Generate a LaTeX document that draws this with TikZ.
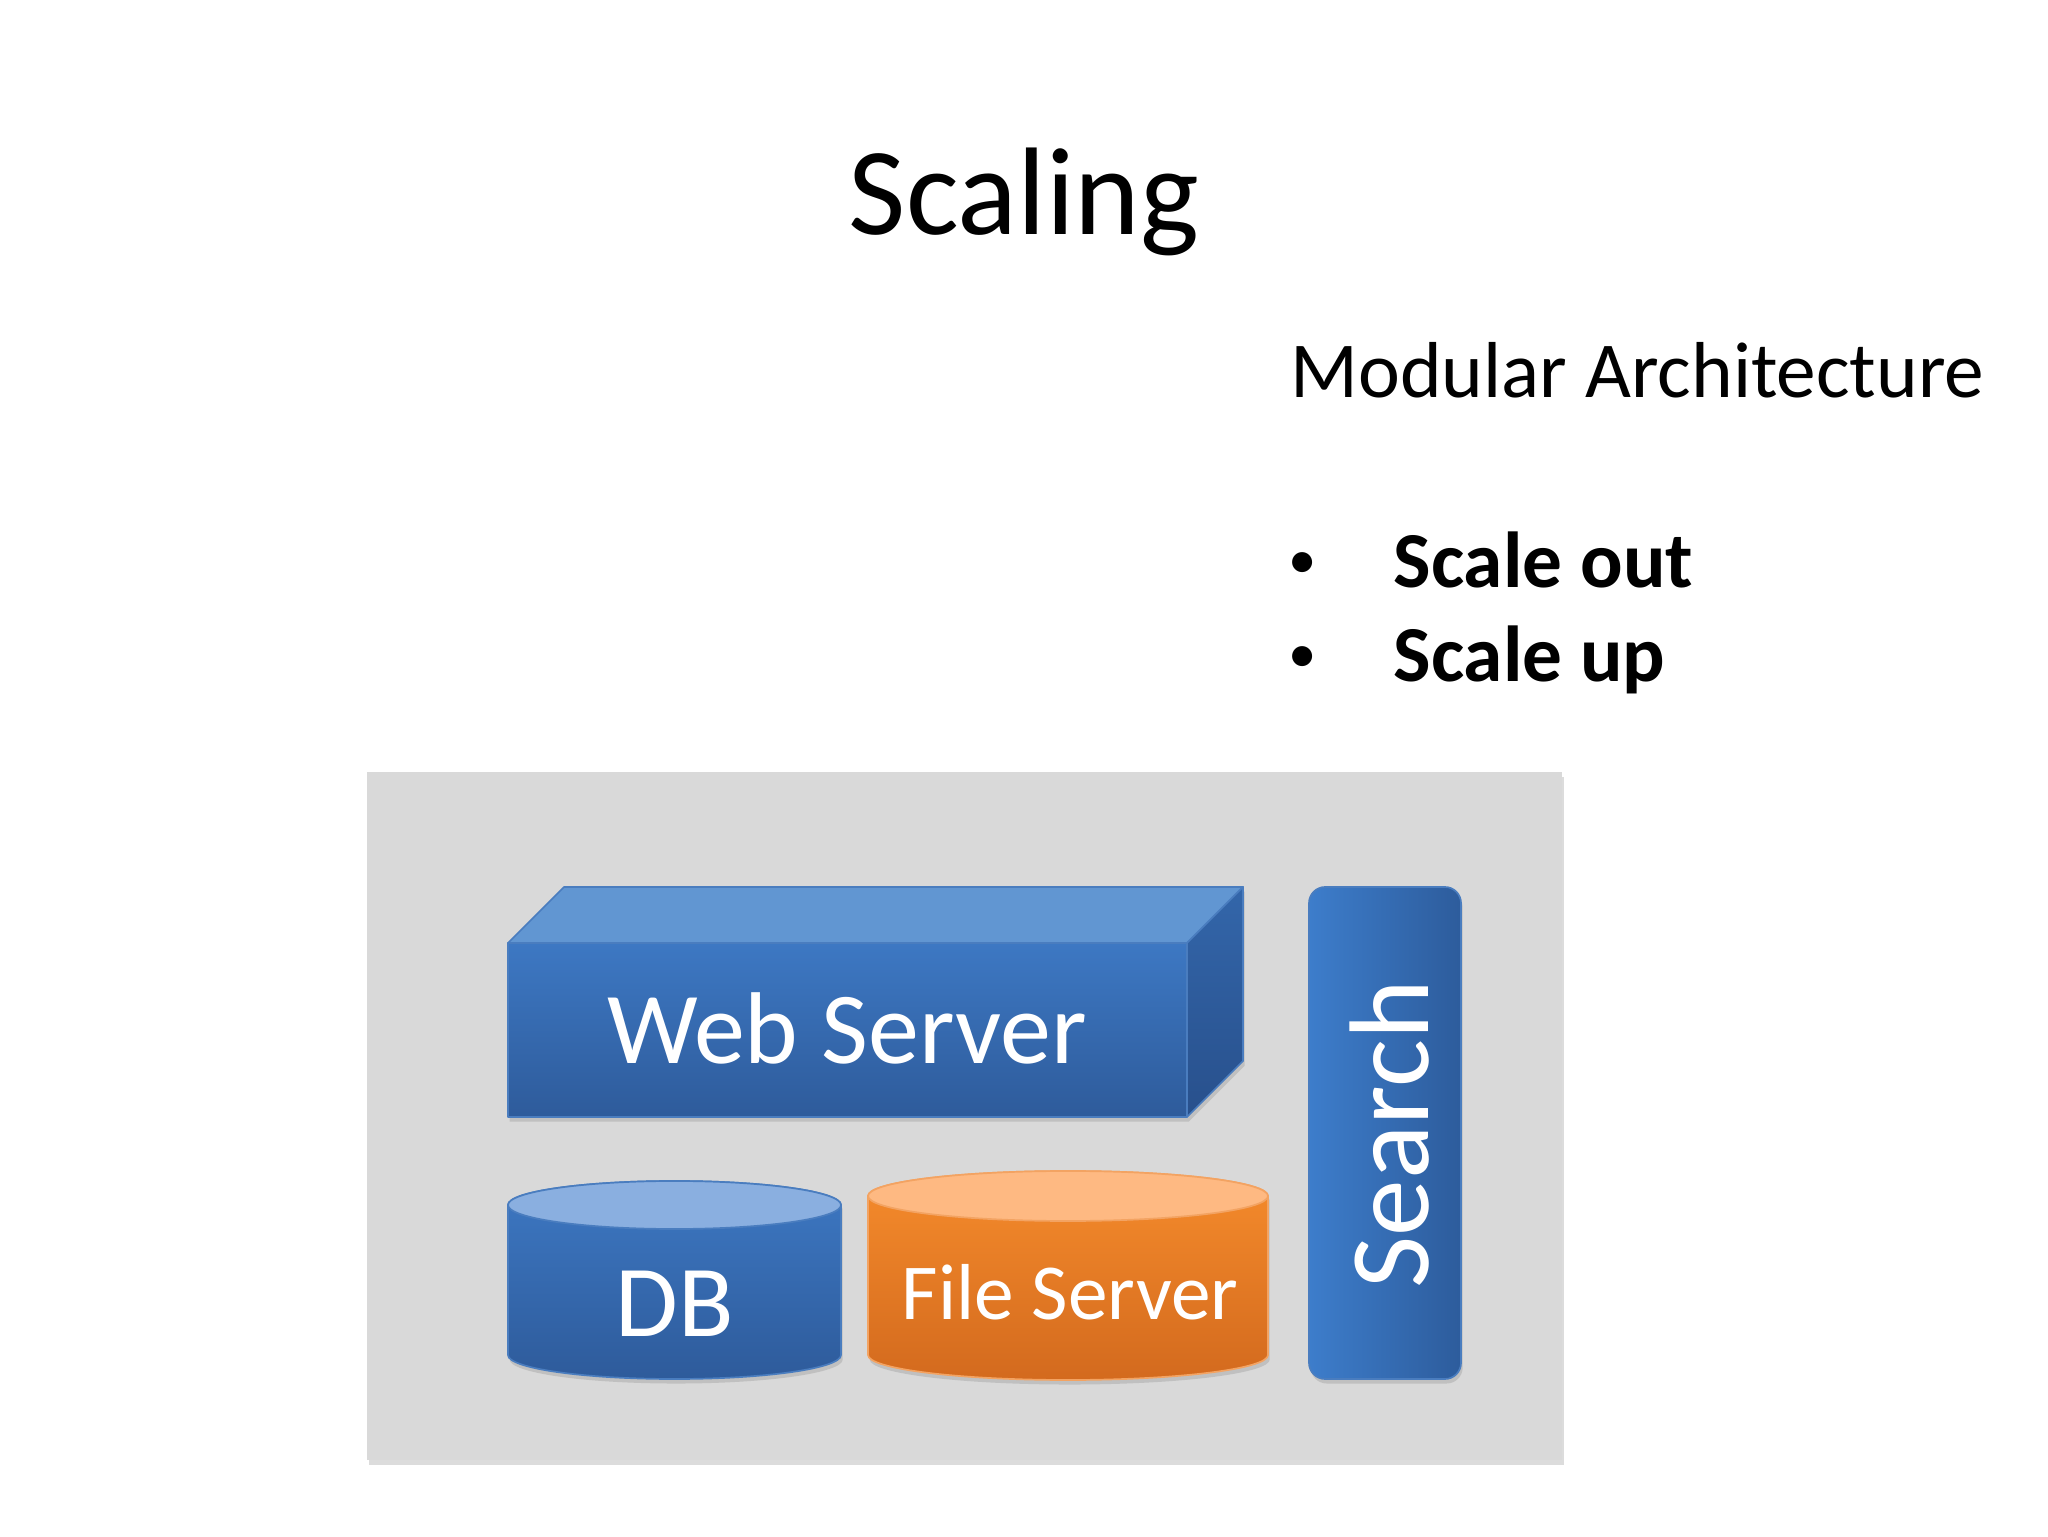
\documentclass[tikz,border=0pt]{standalone}
\usepackage{fontspec}
\setmainfont{Carlito}
\usetikzlibrary{shadows,positioning}
\definecolor{panelgray}{HTML}{D9D9D9}
\definecolor{edgeblue}{HTML}{4A7DBF}
\definecolor{wsTop}{HTML}{3D78C3}
\definecolor{wsBot}{HTML}{2E5B9B}
\definecolor{wsLight}{HTML}{6196D2}
\definecolor{wsSideTop}{HTML}{3366AA}
\definecolor{wsSideBot}{HTML}{28508C}
\definecolor{dbEnd}{HTML}{8AAFE0}
\definecolor{fsTop}{HTML}{F68C2C}
\definecolor{fsBot}{HTML}{D36A1E}
\definecolor{fsEnd}{HTML}{FEB982}
\definecolor{fsEdge}{HTML}{F3A362}
\definecolor{srLeft}{HTML}{3D7DCB}
\definecolor{srRight}{HTML}{2D5C9C}
\tikzset{
  face/.style={
    draw = edgeblue,
    line width = 0.6pt,
    line join = round
  },
  softshadow/.style={
    drop shadow={opacity=0.28, shadow xshift=0.6pt, shadow yshift=-1.6pt}
  },
  boxtext/.style={
    text = white,
    anchor = base,
    inner sep = 0pt,
    font = \fontsize{36}{43}\selectfont
  },
  slidetext/.style={
    anchor = base west,
    inner sep = 0pt,
    font = \fontsize{28}{34}\selectfont
  },
  bulletmark/.style={
    anchor = base,
    inner sep = 0pt,
    font = \fontsize{20}{24}\selectfont
  }
}
\begin{document}
\begin{tikzpicture}[x=0.0124023cm, y=0.0124023cm]
    \useasboundingbox (0,0) rectangle (2048,1536);
    \def\dd{56}
    \def\ry{24}
    % texts at the top
    \node[anchor=base, inner sep=0pt, font=\fontsize{44}{53}\selectfont] (title) at (1024,1301) {Scaling};
    \node[slidetext] (modular) at (1290,1138) {Modular Architecture};
    \node[slidetext, font=\fontsize{28}{34}\selectfont\bfseries] (scaleOut) at (1393,948) {Scale out};
    \node[slidetext, font=\fontsize{28}{34}\selectfont\bfseries] (scaleUp) at (1393,854) {Scale up};
    \node[bulletmark] (bulletOut) at (1303,957) {\textbullet};
    \node[bulletmark] (bulletUp) at (1303,863) {\textbullet};
    % gray panel
    \fill[panelgray, softshadow] (367,76) rectangle (1562,764);
    % web server box
    \path[softshadow, fill=wsBot] (508,419) -- (508,593) -- ++(\dd,\dd) -- (1243,649) -- (1243,475) -- (1187,419) -- cycle;
    \shadedraw[face, top color=wsTop, bottom color=wsBot] (508,419) rectangle (1187,593);
    \filldraw[face, fill=wsLight] (508,593) -- ++(\dd,\dd) -- (1243,649) -- (1187,593) -- cycle;
    \shadedraw[face, top color=wsSideTop, bottom color=wsSideBot] (1187,593) -- (1243,649) -- (1243,475) -- (1187,419) -- cycle;
    \node[boxtext] (web) at (847,472) {Web Server};
    % db cylinder
    \shadedraw[face, softshadow, top color=wsTop, bottom color=wsBot] (508,331) -- (508,181)
        arc[start angle=180, end angle=360, x radius=166.5, y radius=\ry] -- (841,331)
        arc[start angle=0, end angle=180, x radius=166.5, y radius=\ry] -- cycle;
    \filldraw[face, fill=dbEnd] (674.5,331) ellipse[x radius=166.5, y radius=\ry];
    \node[boxtext] (db) at (675,200) {DB};
    % file server cylinder
    \shadedraw[face, draw=fsEdge, softshadow, top color=fsTop, bottom color=fsBot] (868,340) -- (868,181)
        arc[start angle=180, end angle=360, x radius=200, y radius=25] -- (1268,340)
        arc[start angle=0, end angle=180, x radius=200, y radius=25] -- cycle;
    \filldraw[face, draw=fsEdge, fill=fsEnd] (1068,340) ellipse[x radius=200, y radius=25];
    \node[boxtext, font=\fontsize{28}{34}\selectfont] (fileServer) at (1070,217) {File Server};
    % search bar
    \shadedraw[face, softshadow, rounded corners=0.2cm, left color=srLeft, right color=srRight] (1309,157) rectangle (1461,649);
    \node[boxtext, rotate=90, font=\fontsize{40}{48}\selectfont] (search) at (1428,402) {Search};
\end{tikzpicture}
\end{document}
